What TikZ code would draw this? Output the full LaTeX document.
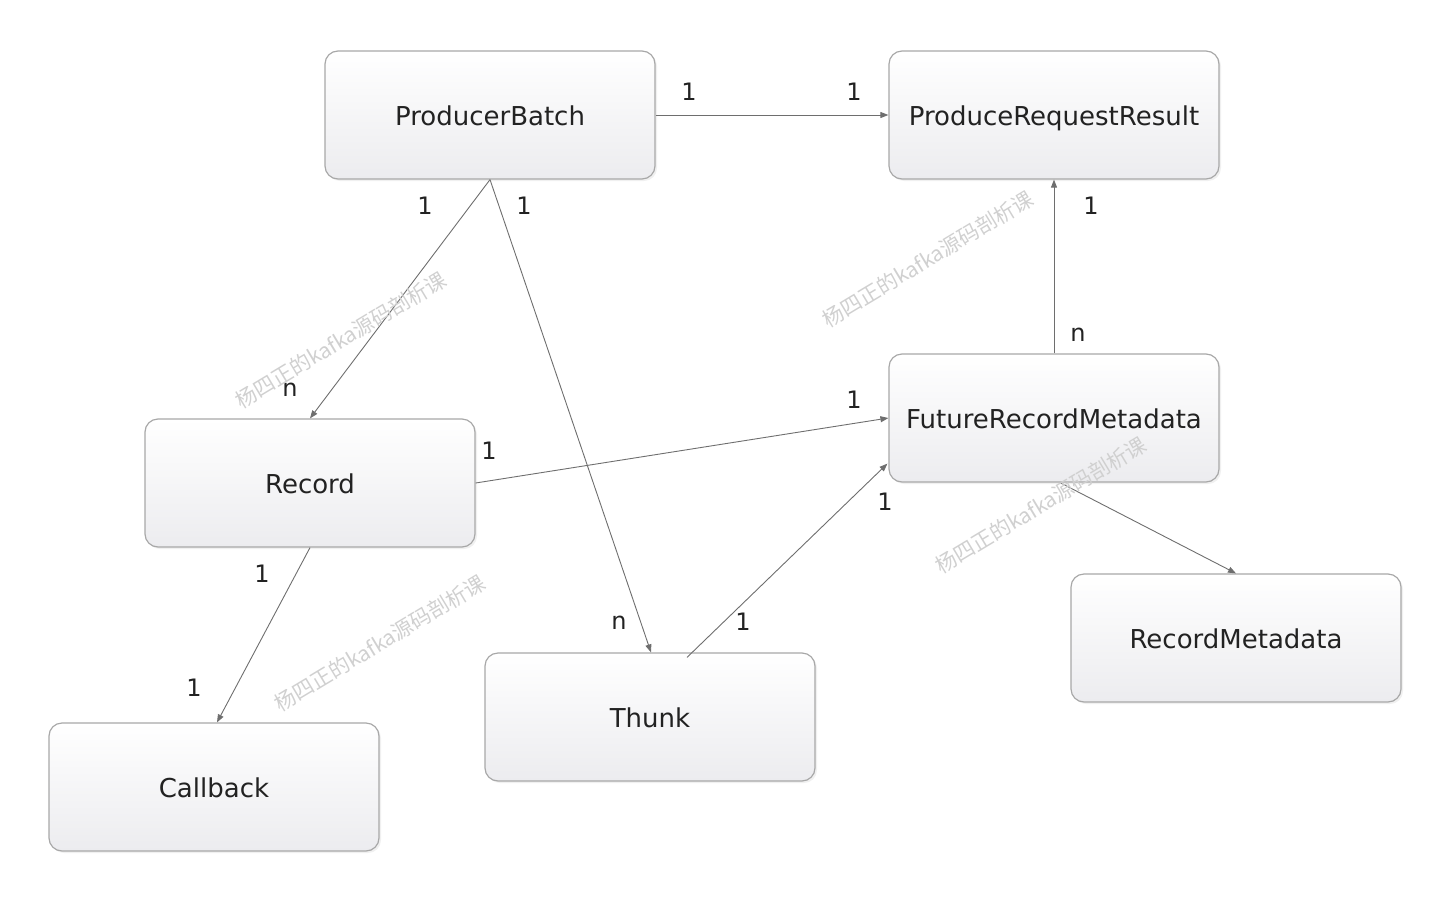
\documentclass[tikz,border=0pt]{standalone}
\usepackage{fontspec}
\setmainfont{DejaVu Sans}
\newfontfamily\cjk{Noto Sans CJK SC}
\usetikzlibrary{arrows.meta,shadows,calc}
\definecolor{boxline}{HTML}{A8A8A8}
\definecolor{boxbot}{HTML}{ECECEF}
\definecolor{lnk}{HTML}{6E6E6E}
\definecolor{txt}{HTML}{222222}
\definecolor{wm}{HTML}{D0D0D0}
\tikzset{
  cls/.style={rectangle, rounded corners=13pt, draw=boxline, line width=1.2pt,
    minimum width=330pt, minimum height=128pt, top color=white, bottom color=boxbot,
    drop shadow={shadow xshift=2pt, shadow yshift=-2pt, opacity=0.12},
    font=\fontsize{26}{30}\selectfont, text=txt, inner sep=0pt,
    text height=24pt, text depth=4pt},
  link/.style={draw=lnk, line width=0.9pt, -{Triangle[length=8pt,width=6pt]}},
  mult/.style={font=\fontsize{24}{28}\selectfont, text=txt, inner sep=0pt},
  wmark/.style={font=\cjk\fontsize{21}{24}\selectfont, text=wm, rotate=31, inner sep=0pt}
}
\begin{document}
\begin{tikzpicture}[x=1pt,y=-1pt]
\useasboundingbox (0,0) rectangle (1430,900);
% classes
\node[cls] (pb) at (490,115) {ProducerBatch};
\node[cls] (prr) at (1054,115) {ProduceRequestResult};
\node[cls] (rec) at (310,483) {Record};
\node[cls] (frm) at (1054,418) {FutureRecordMetadata};
\node[cls] (rm) at (1236,638) {RecordMetadata};
\node[cls] (th) at (650,717) {Thunk};
\node[cls] (cb) at (214,787) {Callback};
% connectors
\draw[link] (pb.east) -- (prr.west);
\draw[link] (pb.south) -- (rec.north);
\draw[link] (pb.south) -- ($(th.north)+(1,0)$);
\draw[link] (rec.east) -- (frm.west);
\coordinate (ts) at ($(th.north)+(37,5)$);
\draw[link] (ts) -- ($(frm.south west)+(-1,-19)$);
\draw[link] (frm.north) -- (prr.south);
\draw[link] ($(frm.south)+(6,0)$) -- (rm.north);
\draw[link] (rec.south) -- ($(cb.north)+(3,0)$);
% multiplicities
\node[mult] (m1) at (689,92) {1};
\node[mult] (m2) at (854,92) {1};
\node[mult] (m3) at (425,206) {1};
\node[mult] (m4) at (290,390) {n};
\node[mult] (m5) at (524,206) {1};
\node[mult] (m6) at (619,623) {n};
\node[mult] (m7) at (489,451) {1};
\node[mult] (m8) at (854,400) {1};
\node[mult] (m9) at (743,622) {1};
\node[mult] (m10) at (885,502) {1};
\node[mult] (m11) at (1078,335) {n};
\node[mult] (m12) at (1091,206) {1};
\node[mult] (m13) at (262,574) {1};
\node[mult] (m14) at (194,688) {1};
% watermarks
\node[wmark] (w1) at (341,340) {杨四正的kafka源码剖析课};
\node[wmark] (w2) at (928,259) {杨四正的kafka源码剖析课};
\node[wmark] (w3) at (1041,505) {杨四正的kafka源码剖析课};
\node[wmark] (w4) at (380,643) {杨四正的kafka源码剖析课};
\end{tikzpicture}
\end{document}
